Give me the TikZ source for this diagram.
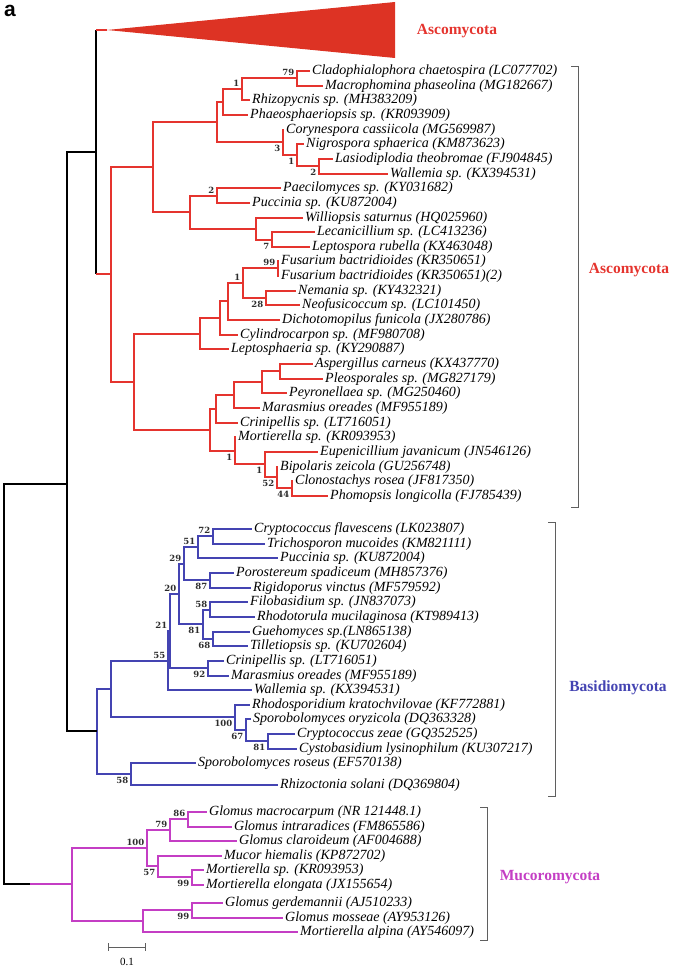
\documentclass[tikz,border=0pt]{standalone}
\usepackage{fontspec}
\setmainfont{Liberation Serif}
\setsansfont{Liberation Sans}
\newfontfamily\bsfont{DejaVu Serif}
\usetikzlibrary{positioning}

\definecolor{ascred}{RGB}{229,52,46}
\definecolor{trired}{RGB}{221,51,36}
\definecolor{basblue}{RGB}{68,68,178}
\definecolor{mucpink}{RGB}{196,62,196}
\definecolor{bsgray}{RGB}{45,45,45}
\definecolor{brkgray}{RGB}{95,95,95}

\begin{document}
\begin{tikzpicture}[x=1pt, y=-1pt,
  br/.style={line width=1.9pt},
  asc/.style={br, draw=ascred},
  bas/.style={br, draw=basblue},
  muc/.style={br, draw=mucpink},
  blk/.style={br, draw=black},
  leaf/.style={anchor=west, inner xsep=2pt, inner ysep=0pt,
               font=\fontsize{14}{14}\selectfont\itshape},
  bs/.style={inner sep=0.5pt, font=\bsfont\fontsize{8.5}{8.5}\selectfont\bfseries, text=bsgray},
  bsa/.style={bs, anchor=south east, xshift=-2pt, yshift=1.5pt},
  bsb/.style={bs, anchor=north east, xshift=-2pt, yshift=-2.5pt},
  clade/.style={font=\fontsize{15.5}{15.5}\selectfont\bfseries},
  brk/.style={draw=brkgray, line width=1pt}]
\useasboundingbox (0,0) rectangle (685,968);

\node[font=\fontsize{21}{21}\sffamily\bfseries] (panel) at (10,11) {a};

% Ascomycota
\foreach \n/\x/\y/\t in {
  a1/310/71/{Cladophialophora chaetospira (LC077702)},
  a2/323/86/{Macrophomina phaseolina (MG182667)},
  a3/250/100/{Rhizopycnis sp. (MH383209)},
  a4/248/115/{Phaeosphaeriopsis sp. (KR093909)},
  a5/284/130/{Corynespora cassiicola (MG569987)},
  a6/304/144/{Nigrospora sphaerica (KM873623)},
  a7/333/159/{Lasiodiplodia theobromae (FJ904845)},
  a8/388/174/{Wallemia sp. (KX394531)},
  a9/281/188/{Paecilomyces sp. (KY031682)},
  a10/250/203/{Puccinia sp. (KU872004)},
  a11/303/218/{Williopsis saturnus (HQ025960)},
  a12/315/232/{Lecanicillium sp. (LC413236)},
  a13/310/247/{Leptospora rubella (KX463048)},
  a14/279/261/{Fusarium bactridioides (KR350651)},
  a15/279/276/{Fusarium bactridioides (KR350651)(2)},
  a16/296/291/{Nemania sp. (KY432321)},
  a17/300/305/{Neofusicoccum sp. (LC101450)},
  a18/280/320/{Dichotomopilus funicola (JX280786)},
  a19/238/335/{Cylindrocarpon sp. (MF980708)},
  a20/229/349/{Leptosphaeria sp. (KY290887)},
  a21/313/364/{Aspergillus carneus (KX437770)},
  a22/323/379/{Pleosporales sp. (MG827179)},
  a23/287/393/{Peyronellaea sp. (MG250460)},
  a24/260/408/{Marasmius oreades (MF955189)},
  a25/238/423/{Crinipellis sp. (LT716051)},
  a26/236/437/{Mortierella sp. (KR093953)},
  a27/318/452/{Eupenicillium javanicum (JN546126)},
  a28/278/467/{Bipolaris zeicola (GU256748)},
  a29/293/481/{Clonostachys rosea (JF817350)},
  a30/328/496/{Phomopsis longicolla (FJ785439)}}
  \node[leaf] (\n) at (\x,\y) {\t};

\coordinate (A1) at (297,78);   \coordinate (A2) at (242,89);
\coordinate (A3) at (223,102);  \coordinate (A4) at (217,122);
\coordinate (B1) at (283,142);  \coordinate (B2) at (297,155);
\coordinate (B3) at (319,166);  \coordinate (C) at (153,167);
\coordinate (D) at (190,212);   \coordinate (D1) at (217,196);
\coordinate (D2) at (256,229);  \coordinate (D3) at (272,240);
\coordinate (F) at (200,334);   \coordinate (F1) at (220,318);
\coordinate (F2) at (228,301);  \coordinate (F3) at (243,283);
\coordinate (F4) at (278,268);  \coordinate (F5) at (266,298);
\coordinate (G) at (210,430);   \coordinate (G1) at (216,409);
\coordinate (G1a) at (234,395); \coordinate (G1b) at (262,382);
\coordinate (G1c) at (280,371); \coordinate (G2) at (235,451);
\coordinate (G2a) at (265,464); \coordinate (G2b) at (277,477);
\coordinate (G2c) at (292,488); \coordinate (E) at (134,382);
\coordinate (R) at (111,274);

\foreach \p/\c in {A1/a1.west, A1/a2.west, A2/A1, A2/a3.west, A3/A2, A3/a4.west,
  B3/a7.west, B3/a8.west, B2/a6.west, B2/B3, B1/a5.west, B1/B2, A4/A3, A4/B1,
  D1/a9.west, D1/a10.west, D3/a12.west, D3/a13.west, D2/a11.west, D2/D3,
  D/D1, D/D2, C/A4, C/D,
  F4/a14.west, F4/a15.west, F5/a16.west, F5/a17.west, F3/F4, F3/F5,
  F2/F3, F2/a18.west, F1/F2, F1/a19.west, F/F1, F/a20.west,
  G1c/a21.west, G1c/a22.west, G1b/G1c, G1b/a23.west, G1a/G1b, G1a/a24.west,
  G1/G1a, G1/a25.west, G2c/a29.west, G2c/a30.west, G2b/a28.west, G2b/G2c,
  G2a/a27.west, G2a/G2b, G2/a26.west, G2/G2a, G/G1, G/G2, E/F, E/G, R/C, R/E}
  \draw[asc] (\p) |- (\c);

\foreach \c/\v/\s in {A1/79/bsa, A2/1/bsa, B1/3/bsb, B2/1/bsb, B3/2/bsb,
  D1/2/bsa, D3/7/bsb, F4/99/bsa, F3/1/bsa, F5/28/bsb,
  G2/1/bsb, G2a/1/bsb, G2b/52/bsb, G2c/44/bsb}
  \node[\s] (v\c) at (\c) {\v};

% Basidiomycota
\foreach \n/\x/\y/\t in {
  b1/252/529/{Cryptococcus flavescens (LK023807)},
  b2/265/544/{Trichosporon mucoides (KM821111)},
  b3/278/558/{Puccinia sp. (KU872004)},
  b4/234/573/{Porostereum spadiceum (MH857376)},
  b5/251/588/{Rigidoporus vinctus (MF579592)},
  b6/248/602/{Filobasidium sp. (JN837073)},
  b7/255/617/{Rhodotorula mucilaginosa (KT989413)},
  b8/250/632/{Guehomyces sp.(LN865138)},
  b9/248/646/{Tilletiopsis sp. (KU702604)},
  b10/224/661/{Crinipellis sp. (LT716051)},
  b11/229/676/{Marasmius oreades (MF955189)},
  b12/252/690/{Wallemia sp. (KX394531)},
  b13/250/705/{Rhodosporidium kratochvilovae (KF772881)},
  b14/251/719/{Sporobolomyces oryzicola (DQ363328)},
  b15/295/734/{Cryptococcus zeae (GQ352525)},
  b16/297/749/{Cystobasidium lysinophilum (KU307217)},
  b17/196/763/{Sporobolomyces roseus (EF570138)},
  b18/278/785/{Rhizoctonia solani (DQ369804)}}
  \node[leaf] (\n) at (\x,\y) {\t};

\coordinate (N0) at (97,731);   \coordinate (N1) at (111,689);
\coordinate (N2) at (168,661);  \coordinate (N3) at (170,631);
\coordinate (N4) at (179,594);  \coordinate (N5) at (184,564);
\coordinate (N6) at (203,624);  \coordinate (N7) at (198,547);
\coordinate (N8) at (210,580);  \coordinate (N9) at (213,536);
\coordinate (N10) at (210,610); \coordinate (N11) at (213,639);
\coordinate (N12) at (208,668); \coordinate (N13) at (235,717);
\coordinate (N14) at (246,730); \coordinate (N15) at (268,741);
\coordinate (N16) at (131,774);

\foreach \p/\c in {N9/b1.west, N9/b2.west, N7/N9, N7/b3.west, N8/b4.west, N8/b5.west,
  N5/N7, N5/N8, N10/b6.west, N10/b7.west, N11/b8.west, N11/b9.west, N6/N10, N6/N11,
  N4/N5, N4/N6, N12/b10.west, N12/b11.west, N3/N4, N3/N12, N2/N3, N2/b12.west,
  N15/b15.west, N15/b16.west, N14/b14.west, N14/N15, N13/b13.west, N13/N14,
  N1/N2, N1/N13, N16/b17.west, N16/b18.west, N0/N1, N0/N16}
  \draw[bas] (\p) |- (\c);

\foreach \c/\v/\s in {N9/72/bsa, N7/51/bsa, N5/29/bsa, N8/87/bsb, N4/20/bsa,
  N10/58/bsa, N6/81/bsb, N11/68/bsb, N3/21/bsa, N2/55/bsa, N12/92/bsb,
  N13/100/bsb, N14/67/bsb, N15/81/bsb, N16/58/bsb}
  \node[\s] (v\c) at (\c) {\v};

% Mucoromycota
\foreach \n/\x/\y/\t in {
  m1/207/812/{Glomus macrocarpum (NR 121448.1)},
  m2/232/827/{Glomus intraradices (FM865586)},
  m3/237/841/{Glomus claroideum (AF004688)},
  m4/222/856/{Mucor hiemalis (KP872702)},
  m5/204/870/{Mortierella sp. (KR093953)},
  m6/204/885/{Mortierella elongata (JX155654)},
  m7/223/903/{Glomus gerdemannii (AJ510233)},
  m8/283/918/{Glomus mosseae (AY953126)},
  m9/298/932/{Mortierella alpina (AY546097)}}
  \node[leaf] (\n) at (\x,\y) {\t};

\coordinate (M) at (72,884);    \coordinate (M1) at (147,848);
\coordinate (M1a) at (170,830); \coordinate (M1b) at (188,819);
\coordinate (M1c) at (158,866); \coordinate (M1d) at (192,877);
\coordinate (M2) at (143,921);  \coordinate (M2a) at (192,910);

\foreach \p/\c in {M1b/m1.west, M1b/m2.west, M1a/M1b, M1a/m3.west,
  M1d/m5.west, M1d/m6.west, M1c/m4.west, M1c/M1d, M1/M1a, M1/M1c,
  M2a/m7.west, M2a/m8.west, M2/M2a, M2/m9.west, M/M1, M/M2}
  \draw[muc] (\p) |- (\c);

\foreach \c/\v/\s in {M1b/86/bsa, M1a/79/bsa, M1/100/bsa, M1c/57/bsb,
  M1d/99/bsb, M2a/99/bsb}
  \node[\s] (v\c) at (\c) {\v};

% backbone and collapsed clade
\coordinate (triA) at (107,30);
\coordinate (Asc) at (96,152);
\coordinate (TopN) at (67,484);
\coordinate (Root) at (4,684);
\coordinate (mstem) at (30,884);
\fill[trired] (triA) -- (395,2) -- (395,58) -- cycle;
\draw[blk] (Asc) -- (Asc |- triA);
\draw[asc] (Asc |- triA) -- (triA);
\draw[blk] (Asc) -- (Asc |- R);
\draw[asc] (Asc |- R) -- (R);
\draw[blk] (TopN) |- (Asc);
\draw[blk] (TopN) |- (N0);
\draw[blk] (Root) |- (TopN);
\draw[blk] (Root) |- (mstem);
\draw[muc] (mstem) -- (M);

% clade brackets
\draw[brk] (571,67) -| (578,507) -- (571,507);
\draw[brk] (548,522) -| (555,796) -- (548,796);
\draw[brk] (480,807) -| (487,940) -- (480,940);
\node[clade, text=ascred] (ascA) at (457,31) {Ascomycota};
\node[clade, text=ascred] (ascB) at (629,270) {Ascomycota};
\node[clade, text=basblue] (basi) at (618,688) {Basidiomycota};
\node[clade, text=mucpink] (muco) at (550,877) {Mucoromycota};

% scale bar
\draw[brk] (108,943) -- (108,951) (108,947) -- (145,947) (145,943) -- (145,951);
\node[font=\fontsize{11}{11}\selectfont] (sbar) at (127,962) {0.1};
\end{tikzpicture}
\end{document}
